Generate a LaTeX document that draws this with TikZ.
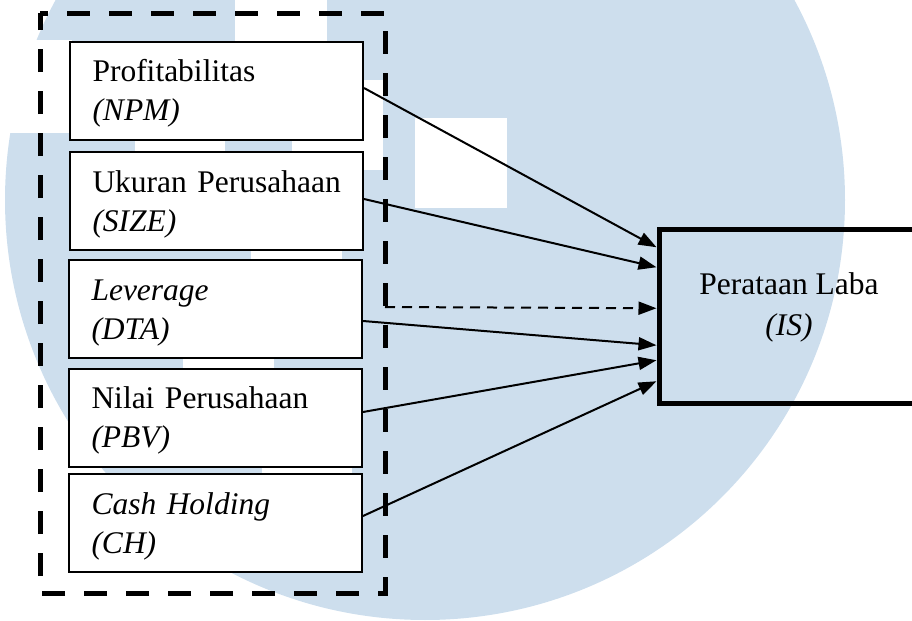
\documentclass[tikz,border=0pt]{standalone}
\usepackage{fontspec}
\setmainfont{Liberation Serif}
\usetikzlibrary{arrows.meta,calc}
\definecolor{wm}{RGB}{205,222,237}
\newcommand\twoline[2]{\mbox{\rule{0pt}{15.5pt}#1}\\\mbox{#2\rule[-5pt]{0pt}{5pt}}}
\begin{document}
\begin{tikzpicture}[x=0.5pt,y=-0.5pt,
  varbox/.style={draw=black,line width=1pt,fill=white,rectangle,
    minimum width=146.5pt,minimum height=49pt,text width=124pt,
    inner xsep=11pt,inner ysep=0pt,align=left,
    font=\fontsize{15.75}{19.5}\selectfont},
  depbox/.style={draw=black,line width=2.5pt,rectangle,
    minimum width=130pt,minimum height=86.75pt,inner sep=0pt,align=center,
    font=\fontsize{15.75}{20.5}\selectfont},
  frame/.style={draw=black,line width=2.5pt,dash pattern=on 11.5pt off 9.5pt,dash phase=7.5pt},
  link/.style={draw=black,line width=1pt,-{Triangle[length=9pt,width=6.5pt]}},
  dlink/.style={link,dash pattern=on 5pt off 3.5pt},
  blank/.style={fill=white,draw=none}]
\path[use as bounding box] (0,0) rectangle (912,621);
% watermark
\begin{scope}
\clip (0,0) rectangle (912,621);
\fill[wm] (425,200) circle[radius=420];
\fill[blank] (235,-2) rectangle (327,44);
\fill[blank] (-2,40) rectangle (72,133);
\fill[blank] (135,130) rectangle (225,160);
\fill[blank] (292,80) rectangle (383,170);
\fill[blank] (415,118) rectangle (507,208);
\fill[blank] (251,240) rectangle (342,265);
\fill[blank] (183,350) rectangle (274,372);
\fill[blank] (262,460) rectangle (352,480);
\end{scope}
% independent variables
\node[varbox] (b1) at (216.5,91) {\twoline{Profitabilitas}{\textit{(NPM)}}};
\node[varbox] (b2) at (216.5,201) {\twoline{Ukuran Perusahaan}{\textit{(SIZE)}}};
\node[varbox] (b3) at (215.5,309) {\twoline{\textit{Leverage}}{\textit{(DTA)}}};
\node[varbox] (b4) at (215.5,417.5) {\twoline{Nilai Perusahaan}{\textit{(PBV)}}};
\node[varbox] (b5) at (215.5,523) {\twoline{\textit{Cash Holding}}{\textit{(CH)}}};
% dependent variable
\node[depbox] (is) at (789,316.25) {\rule{0pt}{11pt}Perataan Laba\\\textit{(IS)}\rule[-12pt]{0pt}{12pt}};
% dashed frame
\path[frame] (40,13) -- (385,13) -- (385,593) -- (40,593) -- cycle;
\coordinate (fr) at (385,307);
% connectors
\draw[link] ($(b1.east)+(0,-3)$) -- ($(is.west)+(0,-69)$);
\draw[link] ($(b2.east)+(0,-2)$) -- ($(is.west)+(0,-49)$);
\draw[dlink] (fr) -- ($(is.west)+(0,-8)$);
\draw[link] ($(b3.east)+(0,12)$) -- ($(is.west)+(0,29)$);
\draw[link] ($(b4.east)+(0,-5.5)$) -- ($(is.west)+(0,44)$);
\draw[link] ($(b5.east)+(0,-7)$) -- ($(is.west)+(0,65)$);
\end{tikzpicture}
\end{document}
